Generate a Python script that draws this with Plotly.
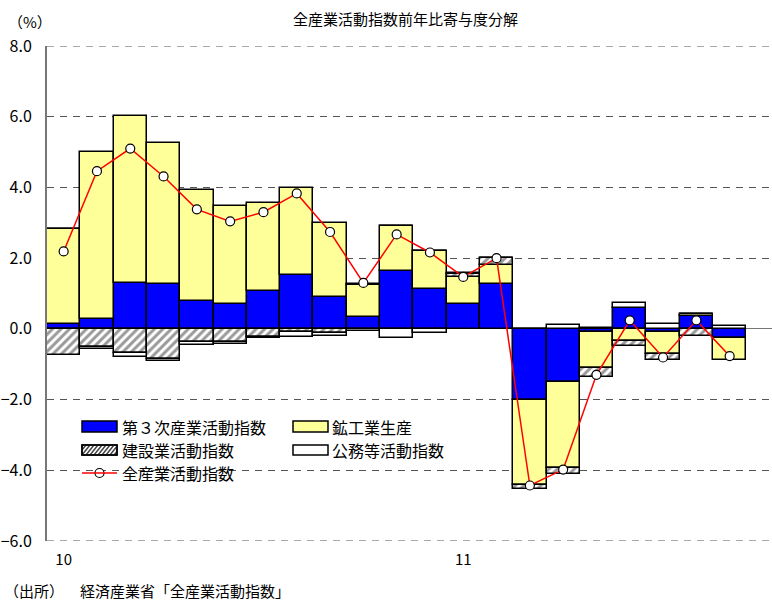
import plotly.graph_objects as go

months = list(range(21))
tick_vals = [0, 12]
tick_text = ["10", "11"]

tertiary = [0.15, 0.29, 1.31, 1.27, 0.78, 0.71, 1.08, 1.53, 0.90, 0.33, 1.64, 1.14,
            0.69, 1.26, -2.02, -1.50, -0.10, 0.60, -0.10, 0.35, -0.27]
mining = [2.68, 4.70, 4.70, 4.00, 3.14, 2.76, 2.48, 2.46, 2.09, 0.90, 1.27, 1.06,
          0.79, 0.54, -2.41, -2.43, -1.00, -0.33, -0.62, 0.07, -0.62]
construction = [-0.75, -0.51, -0.68, -0.85, -0.37, -0.37, -0.23, -0.08, -0.12, 0.04, 0.00, 0.00,
                0.07, 0.20, -0.09, -0.17, -0.26, -0.16, -0.17, -0.19, 0.00]
public = [0.00, -0.07, -0.12, -0.07, -0.10, -0.07, -0.02, -0.15, -0.07, -0.05, -0.26, -0.12,
          0.04, 0.00, 0.00, 0.12, 0.03, 0.14, 0.15, 0.00, 0.08]
total = [2.19, 4.46, 5.10, 4.31, 3.38, 3.04, 3.30, 3.83, 2.74, 1.30, 2.67, 2.16,
         1.47, 2.00, -4.43, -3.98, -1.30, 0.24, -0.81, 0.24, -0.77]

names = ["第３次産業活動指数", "鉱工業生産", "建設業活動指数", "公務等活動指数", "全産業活動指数"]

FONT = "Noto Sans CJK JP"
W, H = 772, 600
L, R, T, B = 47, 0, 46, 59
PW, PH = W - L - R, H - T - B
Y_MIN, Y_MAX = -6, 8

def px(x):
    return (x - L) / PW

def py(y):
    return (H - B - y) / PH

outline = dict(color="black", width=1.5)
fig = go.Figure()
fig.add_bar(x=months, y=tertiary, name=names[0], width=1,
            marker=dict(color="#0000FF", line=outline))
fig.add_bar(x=months, y=mining, name=names[1], width=1,
            marker=dict(color="#FFFF99", line=outline))
fig.add_bar(x=months, y=construction, name=names[2], width=1,
            marker=dict(color="white", line=outline,
                        pattern=dict(shape="/", fgcolor="#333333", bgcolor="white",
                                     size=6, solidity=0.5, fillmode="overlay")))
fig.add_bar(x=months, y=public, name=names[3], width=1,
            marker=dict(color="white", line=outline))
fig.add_scatter(x=months, y=total, name=names[4], mode="lines+markers",
                line=dict(color="#FF0000", width=1.5),
                marker=dict(symbol="circle", size=9, color="white",
                            line=dict(color="black", width=1.2)))

GRID = dict(color="#555555", width=1.2, dash="7px,6px")

fig.update_layout(
    width=W, height=H,
    margin=dict(l=L, r=R, t=T, b=B),
    barmode="relative", bargap=0,
    plot_bgcolor="white", paper_bgcolor="white",
    showlegend=False,
    font=dict(family=FONT, size=15, color="black"),
)
fig.update_xaxes(range=[-0.5, -0.5 + PW / 33.3], tickvals=tick_vals, ticktext=tick_text,
                 showgrid=False, zeroline=False, showline=False, ticks="",
                 ticklabelstandoff=8, tickfont=dict(size=15))
fig.update_yaxes(range=[Y_MIN, Y_MAX], dtick=2, tickformat=".1f",
                 showgrid=True, gridcolor=GRID["color"], gridwidth=GRID["width"], griddash=GRID["dash"],
                 zeroline=True, zerolinecolor="#777777", zerolinewidth=1,
                 showline=True, linecolor="#777777", linewidth=2,
                 ticks="", ticklabelstandoff=10, tickfont=dict(size=16))

shapes = []
annotations = []
for yv in (Y_MIN, Y_MAX):
    shapes.append(dict(type="line", xref="paper", yref="y", x0=0, x1=1, y0=yv, y1=yv,
                       line=GRID, layer="below"))

def rect(x0, y0, x1, y1, fill):
    shapes.append(dict(type="rect", xref="paper", yref="paper",
                       x0=px(x0), x1=px(x1), y0=py(y1), y1=py(y0),
                       fillcolor=fill, line=dict(color="black", width=1.5)))

def label(x, y, text):
    annotations.append(dict(xref="paper", yref="paper", x=px(x), y=py(y), text=text,
                            showarrow=False, xanchor="left", yanchor="middle",
                            font=dict(family=FONT, size=16)))

rect(82, 421, 117, 432, "#0000FF"); label(120, 427, names[0])
rect(293, 421, 328, 432, "#FFFF99"); label(330, 427, names[1])
rect(82, 445, 117, 455, "white")
for k in range(-2, 10):
    xa = 82 + k * 4
    xb = xa + 8
    x0c, x1c = max(xa, 82), min(xb, 117)
    if x1c <= x0c:
        continue
    ya = 455 - (x0c - xa) * 10 / 8
    yb = 455 - (x1c - xa) * 10 / 8
    shapes.append(dict(type="line", xref="paper", yref="paper",
                       x0=px(x0c), x1=px(x1c), y0=py(ya), y1=py(yb),
                       line=dict(color="#444444", width=1.5)))
shapes.append(dict(type="rect", xref="paper", yref="paper",
                   x0=px(82), x1=px(117), y0=py(455), y1=py(445),
                   line=dict(color="black", width=1.5)))
label(120, 450, names[2])
rect(293, 445, 328, 455, "white"); label(330, 450, names[3])
shapes.append(dict(type="line", xref="paper", yref="paper",
                   x0=px(82), x1=px(117), y0=py(473), y1=py(473),
                   line=dict(color="#FF0000", width=1.5)))
label(120, 473, names[4])
fig.add_scatter(x=[px(99.5)], y=[py(473)], xaxis="x2", yaxis="y2", mode="markers",
                marker=dict(symbol="circle", size=9, color="white",
                            line=dict(color="black", width=1.2)),
                hoverinfo="skip", showlegend=False)
fig.update_layout(
    xaxis2=dict(domain=[0, 1], range=[0, 1], overlaying="x", visible=False),
    yaxis2=dict(domain=[0, 1], range=[0, 1], overlaying="y", visible=False),
)

annotations.append(dict(xref="paper", yref="paper", x=px(405), y=py(18),
                        text="全産業活動指数前年比寄与度分解", showarrow=False,
                        xanchor="center", yanchor="middle", font=dict(family=FONT, size=15)))
annotations.append(dict(xref="paper", yref="paper", x=px(6), y=py(22),
                        text="（%）", showarrow=False,
                        xanchor="left", yanchor="middle", font=dict(family=FONT, size=15)))
annotations.append(dict(xref="paper", yref="paper", x=px(2), y=py(590),
                        text="（出所）", showarrow=False,
                        xanchor="left", yanchor="middle", font=dict(family=FONT, size=15)))
annotations.append(dict(xref="paper", yref="paper", x=px(78), y=py(590),
                        text="経済産業省「全産業活動指数」", showarrow=False,
                        xanchor="left", yanchor="middle", font=dict(family=FONT, size=15)))

fig.update_layout(shapes=shapes, annotations=annotations)
fig.write_html("out.html")
